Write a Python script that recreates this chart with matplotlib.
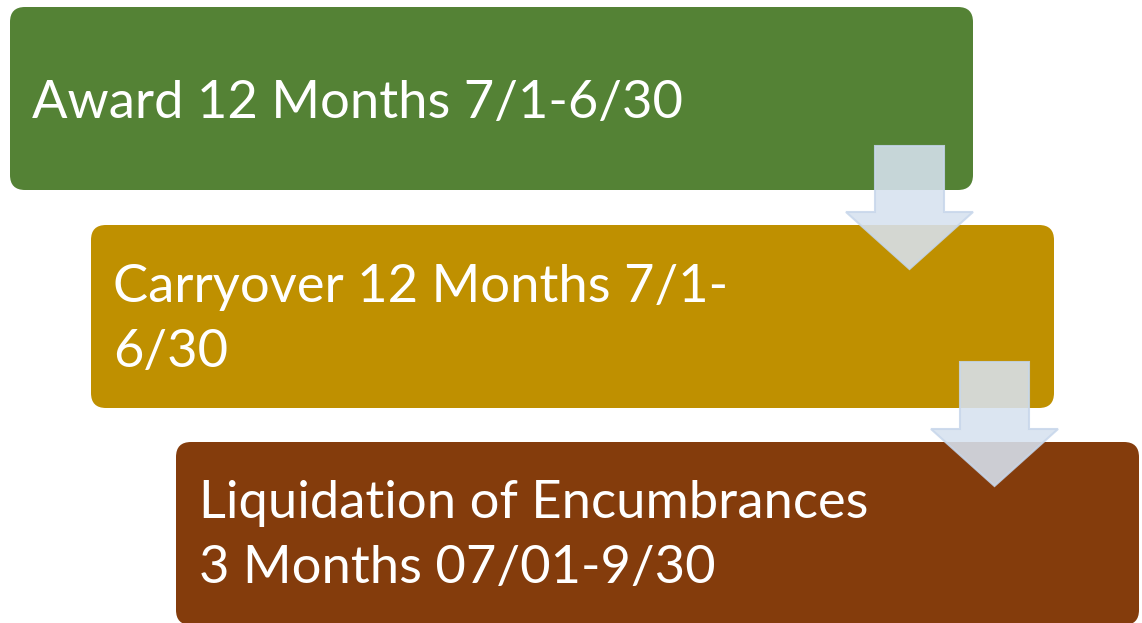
import matplotlib.pyplot as plt
from matplotlib.patches import FancyBboxPatch, Polygon

W, H = 1142, 623

# boxes: left, top, width, height (pixels)
box_left = [10, 91, 176]
box_top = [7, 225, 442]
box_w = 963
box_h = 183
box_colors = ['#548235', '#BF9000', '#843C0C']

labels = [
    ['Award 12 Months 7/1-6/30'],
    ['Carryover 12 Months 7/1-', '6/30'],
    ['Liquidation of Encumbrances', '3 Months 07/01-9/30'],
]
text_x = [32, 113, 199]
text_base = [[118], [302, 367], [518, 583]]

# arrows: shaft left, shaft right, top, head y, head left, head right, tip y
arrows = [
    (875, 944, 146, 212, 846, 973, 269),
    (960, 1029, 362, 429, 931, 1058, 486),
]

fig = plt.figure(figsize=(W / 100, H / 100), dpi=100)
ax = fig.add_axes([0, 0, 1, 1])
ax.set_xlim(0, W)
ax.set_ylim(H, 0)
ax.axis('off')

r = 15
for i in range(3):
    ax.add_patch(FancyBboxPatch((box_left[i] + r, box_top[i] + r), box_w - 2 * r, box_h - 2 * r,
                                boxstyle=f'round,pad={r},rounding_size={r}',
                                facecolor=box_colors[i], edgecolor='none', zorder=1))
    for line, y in zip(labels[i], text_base[i]):
        ax.text(text_x[i], y, line, color='white', fontsize=37.8, family='Lato',
                va='baseline', ha='left', zorder=2)

for sl, sr, top, hy, hl, hr, tip in arrows:
    cx = (hl + hr) / 2
    pts = [(sl, top), (sr, top), (sr, hy), (hr, hy), (cx, tip), (hl, hy), (sl, hy)]
    ax.add_patch(Polygon(pts, closed=True, facecolor='#D7E2F0', edgecolor='#C8D7EB',
                         alpha=0.88, lw=1.5, zorder=3))

fig.savefig('out.png', dpi=100)
